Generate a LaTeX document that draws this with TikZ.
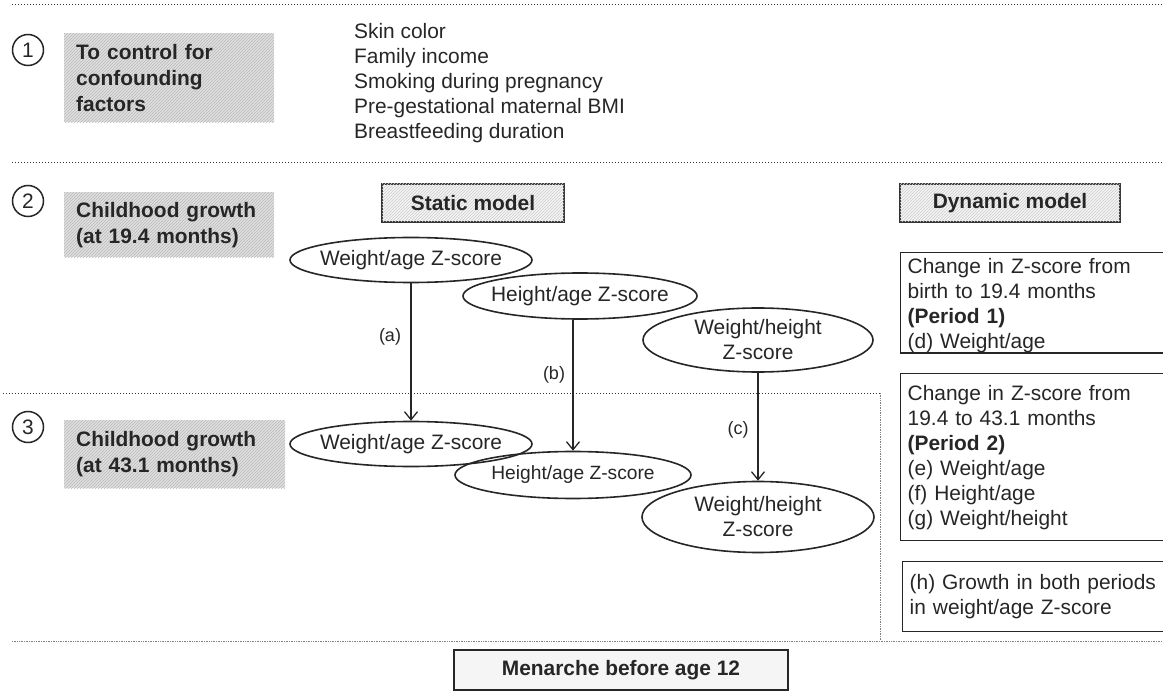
\documentclass[tikz,border=0pt]{standalone}
\usepackage{fontspec}
\setmainfont{Liberation Sans}
\usetikzlibrary{shapes.geometric,patterns,arrows.meta}

\tikzset{
	txt/.style={font=\fontsize{20.9}{25}\selectfont, text=black!85},
	hatchbox/.style={txt, font=\fontsize{20.9}{26}\selectfont\bfseries, fill=gray!24, postaction={pattern=north east lines, pattern color=gray!55}, anchor=north west, align=left, inner xsep=12, inner ysep=0},
	modelbox/.style={txt, font=\fontsize{20.9}{25}\selectfont\bfseries, draw=black!80, line width=1.4, fill=gray!8, postaction={pattern=north east lines, pattern color=gray!40}, minimum height=38, inner sep=0},
	zscore/.style={txt, ellipse, draw=black!85, line width=1.6, inner xsep=-7, inner ysep=0, align=center},
	periodbox/.style={txt, draw=black!85, line width=1.4, anchor=north west, align=left, text width=256, inner xsep=7, inner ysep=0},
	stepnum/.style={txt, circle, draw=black!85, line width=1.5, minimum size=31, inner sep=0},
	pathlabel/.style={txt, font=\fontsize{18}{20}\selectfont},
	flowarrow/.style={-{Straight Barb[length=8pt,width=13pt]}, line width=1.3, black!85},
	sepline/.style={dotted, line width=1, black!80},
	frameline/.style={dash pattern=on 0.8pt off 0.9pt, line width=1, gray}
}

\begin{document}
\begin{tikzpicture}[x=1pt,y=-1pt]
			\useasboundingbox (0,0) rectangle (1163,695);
			\draw[sepline] (12,5) -- (1163,5);
			\draw[sepline] (12,163) -- (1163,163);
			\draw[sepline] (3,393) -- (880,393);
			\draw[frameline] (880,393) -- (880,641);
			\draw[frameline] (12,641) -- (1163,641);
			\draw (28,50) node [stepnum] (c1) {1};
			\draw (28,201) node [stepnum] (c2) {2};
			\draw (28,427) node [stepnum] (c3) {3};
			\draw (64,33) node [hatchbox, text width=186, minimum height=89] (confbox) {To control for\\confounding\\factors};
			\draw (64,192) node [hatchbox, text width=186, minimum height=65] (growth1) {Childhood growth\\(at 19.4 months)};
			\draw (64,420) node [hatchbox, text width=197, minimum height=68] (growth2) {Childhood growth\\(at 43.1 months)};
			\draw (354,83) node [txt, anchor=west, align=left, inner sep=0] (conf) {Skin color\\Family income\\Smoking during pregnancy\\Pre-gestational maternal BMI\\Breastfeeding duration};
			\draw (473,203) node [modelbox, minimum width=182] (static) {Static model};
			\draw (1010,203) node [modelbox, minimum width=220] (dynamic) {Dynamic model};
			\draw (411,260) node [zscore, minimum width=242, minimum height=45] (wa1) {Weight/age Z-score};
			\draw (580,296) node [zscore, minimum width=234, minimum height=46] (ha1) {Height/age Z-score};
			\draw (758,340) node [zscore, minimum width=230, minimum height=64] (wh1) {Weight/height\\Z-score};
			\draw (411,444) node [zscore, minimum width=242, minimum height=45] (wa2) {Weight/age Z-score};
			\draw (573,475) node [zscore, font=\fontsize{19.2}{23}\selectfont, minimum width=236, minimum height=47] (ha2) {Height/age Z-score};
			\draw (758,517) node [zscore, minimum width=232, minimum height=71] (wh2) {Weight/height\\Z-score};
			\draw (390,337) node [pathlabel] (la) {(a)};
			\draw (554,375) node [pathlabel] (lb) {(b)};
			\draw (738,430) node [pathlabel] (lc) {(c)};
			\draw (900,252) node [periodbox, minimum height=100] (period1) {\rule{0pt}{21pt}Change in Z-score from\\birth to 19.4 months\\\textbf{(Period 1)}\\(d) Weight/age};
			\draw (900,373) node [periodbox, minimum height=167] (period2) {Change in Z-score from\\19.4 to 43.1 months\\\textbf{(Period 2)}\\(e) Weight/age\\(f) Height/age\\(g) Weight/height};
			\draw (902,561) node [periodbox, minimum height=70] (both) {(h) Growth in both periods\\in weight/age Z-score};
			\draw (621,670) node [txt, font=\fontsize{20.9}{25}\selectfont\bfseries, draw=black!85, line width=1.4, fill=gray!8, minimum width=334, minimum height=40] (menarche) {Menarche before age 12};
			\path[flowarrow]
				(wa1) edge (wa2)
				(ha1.south -| ha2.north) edge (ha2)
				(wh1) edge (wh2);
		\end{tikzpicture}
\end{document}
